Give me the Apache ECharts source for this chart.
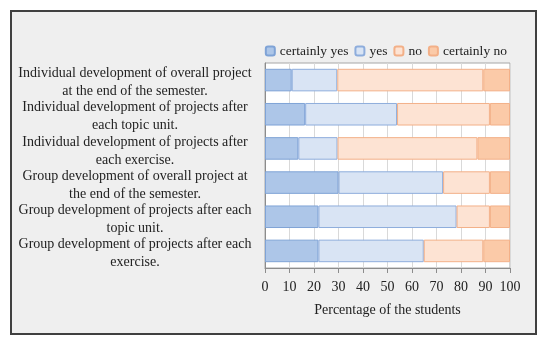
<!DOCTYPE html>
<html><head><meta charset="utf-8">
<script src="https://cdn.jsdelivr.net/npm/echarts@6/dist/echarts.min.js"></script>
<style>html,body{margin:0;padding:0;background:#fff}#c{width:550px;height:346px}</style>
</head><body><div id="c"></div>
<script>
const categories = [
  "Individual development of overall project\nat the end of the semester.",
  "Individual development of projects after\neach topic unit.",
  "Individual development of projects after\neach exercise.",
  "Group development of overall project at\nthe end of the semester.",
  "Group development of projects after each\ntopic unit.",
  "Group development of projects after each\nexercise."
];
const certainlyYes = [10.9, 16.4, 13.6, 30.0, 21.8, 21.8];
const yes = [18.6, 37.5, 16.0, 42.7, 56.4, 43.0];
const no = [59.6, 37.9, 57.1, 19.1, 13.6, 24.3];
const certainlyNo = [10.9, 8.2, 13.3, 8.2, 8.2, 10.9];
const xTicks = [0,10,20,30,40,50,60,70,80,90,100];

const F = "'Liberation Serif', serif";
const mk = (name, data, fill, border) => ({
  name, type: 'bar', stack: 't', data, barCategoryGap: '34%',
  itemStyle: { color: fill, borderColor: border, borderWidth: 1 }
});
const chart = echarts.init(document.getElementById('c'));
chart.setOption({
  animation: false,
  backgroundColor: '#fff',
  graphic: [{ type: 'rect', shape: { x: 11, y: 11, width: 525, height: 323 }, style: { fill: '#efefef', stroke: '#404040', lineWidth: 2 }, z: -10 }],
  legend: {
    right: 38, top: 39, itemWidth: 9, itemHeight: 9, itemGap: 6,
    textStyle: { fontFamily: F, fontSize: 13.5, color: '#222' },
    data: ['certainly yes', 'yes', 'no', 'certainly no']
  },
  grid: { left: 265, right: 40, top: 63, bottom: 78, show: true, backgroundColor: '#fff', borderColor: '#a6a6a6', borderWidth: 1 },
  xAxis: {
    type: 'value', min: 0, max: 100, interval: 10,
    name: 'Percentage of the students', nameLocation: 'middle', nameGap: 35,
    nameTextStyle: { fontFamily: F, fontSize: 14, color: '#222' },
    axisLine: { show: true, lineStyle: { color: '#8c8c8c' } },
    axisTick: { show: true, length: 5, lineStyle: { color: '#8c8c8c' } },
    axisLabel: { fontFamily: F, fontSize: 14, color: '#222', margin: 12, formatter: v => xTicks.includes(v) ? String(v) : '' },
    splitLine: { show: true, lineStyle: { color: '#d9d9d9' } }
  },
  yAxis: {
    type: 'category', data: categories, inverse: true,
    axisLine: { show: true, lineStyle: { color: '#8c8c8c' } },
    axisTick: { show: false },
    axisLabel: {
      interval: 0, color: '#222', align: 'center', margin: 130,
      formatter: v => '{a|' + v.split('\n').join('}\n{a|') + '}',
      rich: { a: { fontFamily: F, fontSize: 14, color: '#222', lineHeight: 18, padding: [5, 0, 0, 0] } }
    }
  },
  series: [
    mk('certainly yes', certainlyYes, '#adc6e8', '#7fa3d6'),
    mk('yes', yes, '#d9e4f4', '#8eaddc'),
    mk('no', no, '#fde3d3', '#f3b088'),
    mk('certainly no', certainlyNo, '#fbcaa8', '#f3b088')
  ]
});
</script></body></html>
